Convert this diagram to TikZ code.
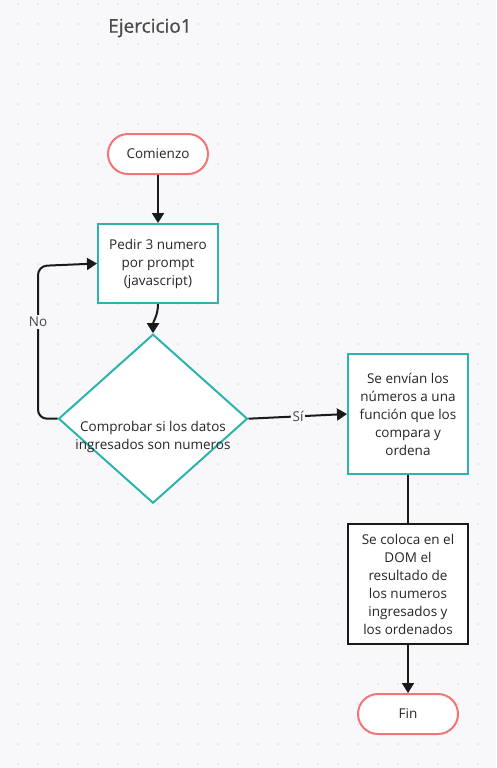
\documentclass[tikz,border=0pt]{standalone}
\usepackage{fontspec}
\setmainfont{Open Sans}
\newfontfamily\titlefont[FakeBold=0.5]{Open Sans}
\usetikzlibrary{shapes.geometric,arrows.meta}
\definecolor{bg}{HTML}{F8F8FB}
\definecolor{tealc}{HTML}{2BB3AC}
\definecolor{salmon}{HTML}{F27474}
\definecolor{txt}{HTML}{262626}
\definecolor{dotc}{HTML}{DCDCE2}
\definecolor{titlec}{HTML}{4A4A4A}
\definecolor{linec}{HTML}{1A1A1A}
\begin{document}
\begin{tikzpicture}[x=1pt,y=-1pt,
  every node/.style={font=\fontsize{13.5}{18}\selectfont, text=txt},
  terminal/.style={draw=salmon, line width=2pt, fill=white, rounded corners=20pt,
    minimum width=100pt, minimum height=40pt, inner sep=0pt},
  procbox/.style={draw=tealc, line width=2pt, fill=white, minimum width=120pt,
    inner sep=0pt, align=center},
  blackbox/.style={draw=linec, line width=2pt, fill=white, minimum width=120pt,
    inner sep=0pt, align=center},
  decision/.style={diamond, draw=tealc, line width=2pt, fill=white, inner sep=0pt,
    minimum width=189pt, minimum height=169pt},
  conn/.style={draw=linec, line width=2pt},
  arr/.style={conn, -{Triangle[width=12pt,length=10pt]}},
  lbl/.style={fill=bg, inner sep=2pt, text=txt!85}
]
\fill[bg] (0,0) rectangle (496,768);
\useasboundingbox (0,0) rectangle (496,768);
\foreach \i in {0,...,24} {
  \foreach \j in {0,...,38} {
    \fill[dotc] (18+20*\i, 4+20*\j) circle (1);
  }
}
\node[font=\titlefont\fontsize{19}{22}\selectfont, text=titlec] (title) at (150,28) {Ejercicio1};

\node[terminal] (start) at (158,154) {Comienzo};
\node[procbox, minimum height=79pt] (b1) at (158,263.5) {Pedir 3 numero\\por prompt\\(javascript)};
\node[decision] (d) at (153,418.7) {};
\node[align=center] (dt) at (153,437) {Comprobar si los datos\\ingresados son numeros};
\node[procbox, minimum height=120pt] (b2) at (408,414) {Se envían los\\números a una\\función que los\\compara y\\ordena};
\node[blackbox, minimum height=120pt] (b3) at (408,584) {Se coloca en el\\DOM el\\resultado de\\los numeros\\ingresados y\\los ordenados};
\node[terminal] (fin) at (408,714) {Fin};

\coordinate (nl) at (38,418.7);
\coordinate (nu) at (38,266);
\draw[arr] (start) -- (b1);
\draw[arr] (b1.south) to[out=-90,in=90] (d.north);
\draw[arr, rounded corners=9pt] (d.west) -- (nl) -- (nu) -- (b1.west);
\node[lbl] (no) at (38,322) {No};
\draw[arr] (d.east) -- (b2.west);
\node[lbl] (si) at (298,416.5) {Sí};
\draw[conn] (b2) -- (b3);
\draw[arr] (b3) -- (fin);
\end{tikzpicture}
\end{document}
